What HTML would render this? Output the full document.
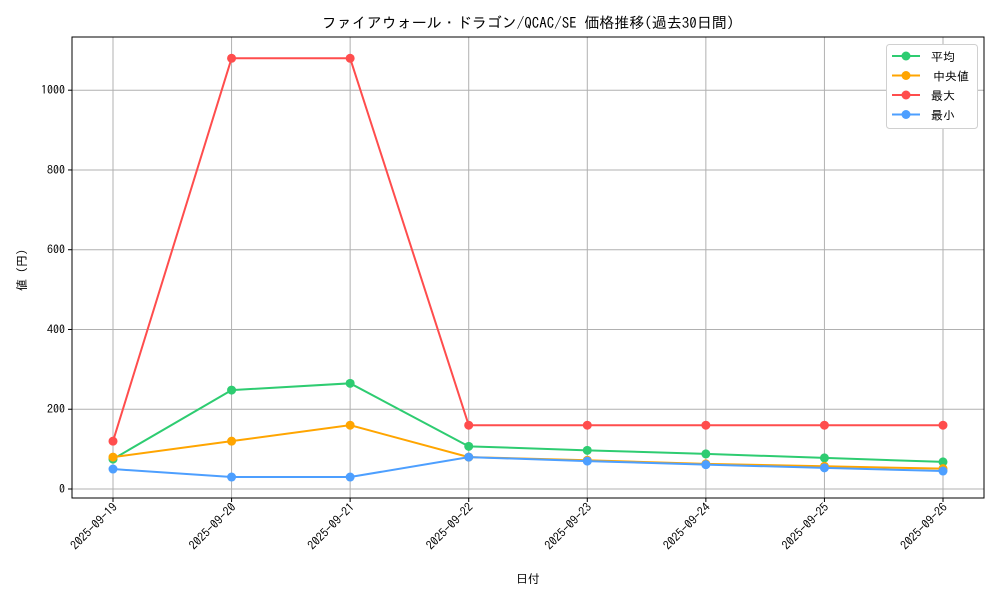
<!DOCTYPE html>
<html><head><meta charset="utf-8">
<style>
body{margin:0;background:#fff;font-family:"IPAGothic","Noto Sans CJK JP",sans-serif;}
svg text{font-family:"IPAGothic","Noto Sans CJK JP",sans-serif;fill:#000;}
</style></head>
<body>
<svg id="chart" width="1000" height="600" xmlns="http://www.w3.org/2000/svg">
<rect width="1000" height="600" fill="#fff"/>
<text x="528" y="28" font-size="15" text-anchor="middle">ファイアウォール・ドラゴン/QCAC/SE 価格推移(過去30日間)</text>
<g id="grid"></g>
<g id="axes"></g>
<g id="series"></g>
<text x="528" y="583" font-size="12" text-anchor="middle">日付</text>
<text x="26" y="270" font-size="12" text-anchor="middle" transform="rotate(-90 26 270)">値 (円)</text>
<g id="legend"></g>
</svg>
<script>
const categories=["2025-09-19","2025-09-20","2025-09-21","2025-09-22","2025-09-23","2025-09-24","2025-09-25","2025-09-26"];
const avgValues=[75,248,265,107,97,88,78,68];
const medianValues=[80,120,160,80,72,63,57,51];
const maxValues=[120,1080,1080,160,160,160,160,160];
const minValues=[50,30,30,80,70,61,53,45];
const yTicks=[0,200,400,600,800,1000];
const seriesNames=["平均","中央値","最大","最小"];
const NS="http://www.w3.org/2000/svg";
const L=72,R=984,T=37,B=498;
function xPos(i){return 113+i*(943-113)/(categories.length-1);}
function yPos(v){return 489-v*(489-90.2)/1000;}
function mk(tag,attrs,parent){const e=document.createElementNS(NS,tag);for(const k in attrs)e.setAttribute(k,attrs[k]);parent.appendChild(e);return e;}
const grid=document.getElementById('grid'),axes=document.getElementById('axes'),ser=document.getElementById('series'),leg=document.getElementById('legend');
categories.forEach((c,i)=>{
 const x=xPos(i);
 const g=mk('line',{x1:x,x2:x,y1:T,y2:B,stroke:'#b0b0b0','stroke-width':1},grid);
 
 
 const t=mk('line',{x1:x,x2:x,y1:B,y2:B+4,stroke:'#000'},axes);
 
 
 const lb=mk('text',{x:x+5,y:B+10,'font-size':12,'text-anchor':'end',transform:`rotate(-45 ${x+5} ${B+10})`},axes);
 lb.textContent=c;
 
 
});
yTicks.forEach(v=>{
 const y=yPos(v);
 const g=mk('line',{x1:L,x2:R,y1:y,y2:y,stroke:'#b0b0b0','stroke-width':1},grid);
 
 
 const t=mk('line',{x1:L-4,x2:L,y1:y,y2:y,stroke:'#000'},axes);
 
 
 const lb=mk('text',{x:L-7,y:y+4,'font-size':12,'text-anchor':'end'},axes);
 lb.textContent=v;
 
 
});
const frame=mk('rect',{x:L,y:T,width:R-L,height:B-T,fill:'none',stroke:'#000','stroke-width':1},axes);


const all=[[avgValues,'#2ecc71','series-average'],[medianValues,'#ffa500','series-median'],[maxValues,'#ff4d4d','series-max'],[minValues,'#4d9fff','series-min']];
all.forEach(([vals,col,name])=>{
 const g=mk('g',{},ser);
 
 
 const p=mk('polyline',{points:vals.map((v,i)=>xPos(i)+','+yPos(v)).join(' '),fill:'none',stroke:col,'stroke-width':2},g);
 
 
 vals.forEach((v,i)=>{
  const c=mk('circle',{cx:xPos(i),cy:yPos(v),r:4.5,fill:col},g);
  
  
 });
});
const lb=mk('rect',{x:886.5,y:44.5,width:91,height:84,rx:3,fill:'#fff',stroke:'#d0d0d0'},leg);


all.forEach(([v,col],i)=>{
 const y=56+i*19.5;
 const g=mk('g',{},leg);
 
 
 mk('line',{x1:892,x2:920,y1:y,y2:y,stroke:col,'stroke-width':2},g);
 mk('circle',{cx:906,cy:y,r:4.5,fill:col},g);
 const t=mk('text',{x:i==1?933:931,y:y+5,'font-size':12},g);
 t.textContent=seriesNames[i];
});
</script>
</body></html>
